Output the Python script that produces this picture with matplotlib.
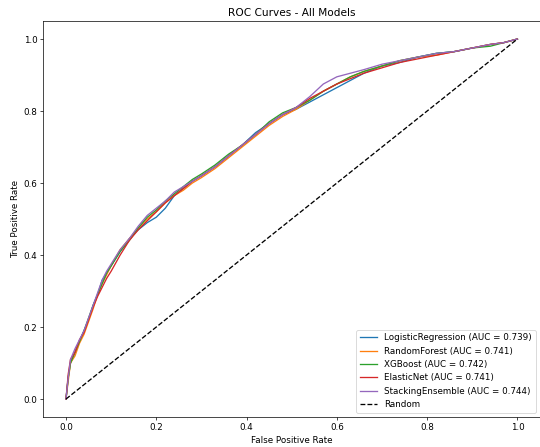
import matplotlib
matplotlib.use("Agg")
import matplotlib.pyplot as plt

# shared false positive rate grid
fpr = [0, 0.005, 0.01, 0.02, 0.03, 0.04, 0.05, 0.06, 0.07, 0.08, 0.09, 0.10,
       0.12, 0.14, 0.16, 0.18, 0.20, 0.22, 0.24, 0.26, 0.28, 0.30, 0.33, 0.36,
       0.39, 0.42, 0.45, 0.48, 0.51, 0.54, 0.57, 0.60, 0.63, 0.66, 0.70, 0.74,
       0.78, 0.82, 0.86, 0.90, 0.94, 0.97, 1.0]

tpr_lr = [0, 0.06, 0.10, 0.13, 0.16, 0.19, 0.22, 0.26, 0.29, 0.33, 0.35, 0.37,
          0.41, 0.445, 0.47, 0.49, 0.505, 0.53, 0.565, 0.585, 0.605, 0.62, 0.645, 0.675,
          0.705, 0.74, 0.765, 0.79, 0.805, 0.825, 0.845, 0.865, 0.885, 0.905, 0.925, 0.935,
          0.95, 0.96, 0.965, 0.975, 0.985, 0.99, 1.0]
tpr_rf = [0, 0.05, 0.10, 0.12, 0.155, 0.18, 0.215, 0.25, 0.29, 0.32, 0.345, 0.37,
          0.415, 0.445, 0.475, 0.50, 0.52, 0.545, 0.565, 0.58, 0.60, 0.615, 0.64, 0.67,
          0.70, 0.73, 0.76, 0.785, 0.805, 0.83, 0.855, 0.875, 0.895, 0.91, 0.925, 0.94,
          0.95, 0.955, 0.965, 0.975, 0.985, 0.99, 1.0]
tpr_xgb = [0, 0.06, 0.10, 0.13, 0.16, 0.19, 0.225, 0.26, 0.29, 0.32, 0.35, 0.37,
           0.41, 0.44, 0.475, 0.505, 0.525, 0.55, 0.57, 0.59, 0.61, 0.625, 0.65, 0.68,
           0.705, 0.735, 0.77, 0.795, 0.81, 0.83, 0.855, 0.875, 0.895, 0.91, 0.925, 0.94,
           0.95, 0.96, 0.965, 0.975, 0.98, 0.99, 1.0]
tpr_en = [0, 0.07, 0.11, 0.13, 0.165, 0.185, 0.22, 0.255, 0.285, 0.31, 0.335, 0.355,
          0.40, 0.44, 0.47, 0.495, 0.52, 0.545, 0.565, 0.585, 0.605, 0.62, 0.645, 0.675,
          0.705, 0.735, 0.765, 0.79, 0.81, 0.835, 0.855, 0.875, 0.89, 0.905, 0.92, 0.935,
          0.945, 0.955, 0.965, 0.975, 0.985, 0.99, 1.0]
tpr_stack = [0, 0.06, 0.11, 0.14, 0.165, 0.19, 0.225, 0.26, 0.295, 0.33, 0.355, 0.375,
             0.415, 0.445, 0.48, 0.51, 0.53, 0.55, 0.575, 0.59, 0.605, 0.62, 0.645, 0.675,
             0.705, 0.735, 0.765, 0.79, 0.81, 0.84, 0.875, 0.895, 0.905, 0.915, 0.93, 0.94,
             0.95, 0.96, 0.965, 0.975, 0.985, 0.99, 1.0]

names = ["LogisticRegression", "RandomForest", "XGBoost", "ElasticNet", "StackingEnsemble"]
aucs = [0.739, 0.741, 0.742, 0.741, 0.744]
curves = [tpr_lr, tpr_rf, tpr_xgb, tpr_en, tpr_stack]

fig = plt.figure(figsize=(540 / 63, 447 / 63), dpi=63)
ax = fig.add_axes([0.0804, 0.067, 0.9196, 0.886])

for name, auc, tpr in zip(names, aucs, curves):
    ax.plot(fpr, tpr, label=f"{name} (AUC = {auc:.3f})")
ax.plot([0, 1], [0, 1], "k--", label="Random")

ax.set_xlabel("False Positive Rate")
ax.set_ylabel("True Positive Rate")
ax.set_title("ROC Curves - All Models")
ax.legend(loc="lower right")

fig.savefig("out.png", dpi=63)
